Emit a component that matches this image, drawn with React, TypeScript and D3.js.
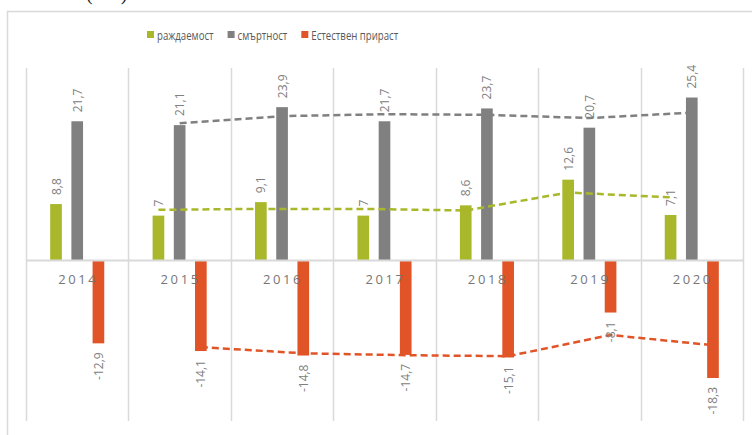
import React, { useRef, useEffect } from "react";
import * as d3 from "d3";

// values per year, ‰
const years = ["2014", "2015", "2016", "2017", "2018", "2019", "2020"];
const birthRate = [8.8, 7, 9.1, 7, 8.6, 12.6, 7.1];
const deathRate = [21.7, 21.1, 23.9, 21.7, 23.7, 20.7, 25.4];
const naturalGrowth = [-12.9, -14.1, -14.8, -14.7, -15.1, -8.1, -18.3];
const seriesNames = ["раждаемост", "смъртност", "Естествен прираст"];
const seriesColors = ["#A8B82A", "#808080", "#E05427"];
const yDomain = [-25, 30];

const fmt = (v: number) => String(v).replace(".", ",");

function App() {
  const svgRef = useRef<SVGSVGElement>(null);
  const width = 752;
  const height = 435;

  useEffect(() => {
    const svg = d3.select(svgRef.current);
    svg.selectAll("*").remove();

    const plot = { left: 26, right: 743, top: 68, bottom: 421 };
    const series = [birthRate, deathRate, naturalGrowth];

    const x = d3.scaleBand().domain(years).range([plot.left, plot.right]).padding(0);
    const xs = d3
      .scaleBand<number>()
      .domain([0, 1, 2])
      .range([0, x.bandwidth()])
      .paddingInner(0.45)
      .paddingOuter(1.14);
    const y = d3.scaleLinear().domain(yDomain).range([plot.bottom, plot.top]);

    // chart frame
    svg.append("path")
      .attr("d", `M7.5,${height} V11.5 H${width}`)
      .attr("fill", "none")
      .attr("stroke", "#d9d9d9")
      .attr("stroke-width", 1.5);

    // cut-off unit label above the frame (only its lower edge shows)
    svg.append("text")
      .attr("x", 86)
      .attr("y", 0)
      .attr("font-family", "Liberation Serif, serif")
      .attr("font-size", 20)
      .attr("letter-spacing", 4)
      .attr("fill", "#222")
      .text("(‰)");

    // vertical gridlines
    svg.append("g")
      .selectAll("line")
      .data(d3.range(years.length + 1))
      .join("line")
      .attr("x1", (i) => Math.round(plot.left + i * x.step()) + 0.5)
      .attr("x2", (i) => Math.round(plot.left + i * x.step()) + 0.5)
      .attr("y1", plot.top)
      .attr("y2", plot.bottom)
      .attr("stroke", "#d9d9d9")
      .attr("stroke-width", 1.5);

    // bars
    series.forEach((vals, s) => {
      svg.append("g")
        .selectAll("rect")
        .data(vals)
        .join("rect")
        .attr("x", (_, i) => x(years[i])! + xs(s)!)
        .attr("width", xs.bandwidth())
        .attr("y", (d) => y(Math.max(0, d)))
        .attr("height", (d) => Math.abs(y(d) - y(0)))
        .attr("fill", seriesColors[s]);
    });

    // zero axis line
    svg.append("line")
      .attr("x1", plot.left)
      .attr("x2", plot.right)
      .attr("y1", y(0))
      .attr("y2", y(0))
      .attr("stroke", "#d9d9d9")
      .attr("stroke-width", 2);

    // category labels
    svg.append("g")
      .selectAll("text")
      .data(years)
      .join("text")
      .attr("x", (d) => x(d)! + x.bandwidth() / 2 + 1)
      .attr("y", y(0) + 23)
      .attr("text-anchor", "middle")
      .attr("font-family", "Open Sans, sans-serif")
      .attr("font-size", 13)
      .attr("letter-spacing", 2.6)
      .attr("fill", "#777")
      .text((d) => d);

    // 2-period moving average trendlines
    series.forEach((vals, s) => {
      const avg = vals.slice(1).map((v, i) => ({ i: i + 1, v: d3.mean([vals[i], v])! }));
      const line = d3
        .line<{ i: number; v: number }>()
        .x((d) => x(years[d.i])! + xs(s)! + xs.bandwidth() / 2)
        .y((d) => y(d.v));
      svg.append("path")
        .datum(avg)
        .attr("fill", "none")
        .attr("stroke", seriesColors[s])
        .attr("stroke-width", 2.5)
        .attr("stroke-dasharray", "7,4")
        .attr("d", line);
    });

    // data labels
    series.forEach((vals, s) => {
      svg.append("g")
        .selectAll("text")
        .data(vals)
        .join("text")
        .attr("transform", (d, i) => {
          const cx = x(years[i])! + xs(s)! + xs.bandwidth() / 2;
          const cy = d >= 0 ? y(d) - 9 : y(d) + 9;
          return `translate(${cx},${cy}) rotate(-90)`;
        })
        .attr("text-anchor", (d) => (d >= 0 ? "start" : "end"))
        .attr("dominant-baseline", "central")
        .attr("font-family", "Open Sans, sans-serif")
        .attr("font-size", 12)
        .attr("fill", "#808080")
        .text((d) => fmt(d));
    });

    // legend (narrow face, so squeeze the glyphs)
    const legend = svg.append("g").attr("transform", "translate(147,35)");
    let lx = 0;
    seriesNames.forEach((name, s) => {
      legend.append("rect")
        .attr("x", lx)
        .attr("y", -4)
        .attr("width", 7)
        .attr("height", 7)
        .attr("fill", seriesColors[s]);
      const t = legend.append("text")
        .attr("x", lx + 10)
        .attr("y", 0)
        .attr("dominant-baseline", "central")
        .attr("font-family", "Open Sans, sans-serif")
        .attr("font-size", 12.5)
        .attr("fill", "#595959")
        .text(name);
      const w = (t.node() as SVGTextElement).getComputedTextLength() * 0.77;
      t.attr("textLength", w).attr("lengthAdjust", "spacingAndGlyphs");
      lx += 10 + w + 14;
    });
  }, []);

  return (
    <svg
      ref={svgRef}
      width={width}
      height={height}
      style={{ position: "absolute", left: 0, top: 0, background: "#fff" }}
    />
  );
}

export default App;
